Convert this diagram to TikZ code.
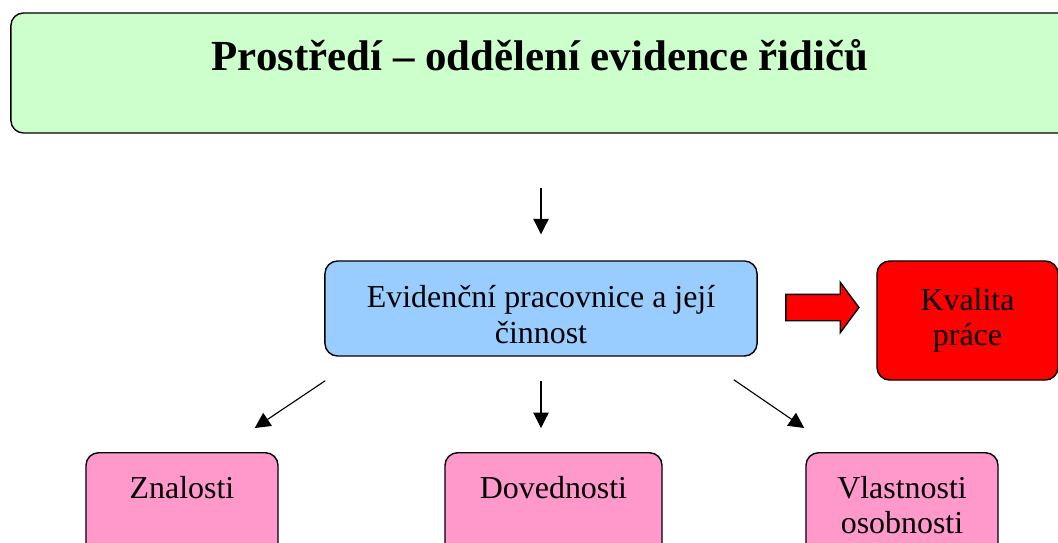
\documentclass[tikz,border=0pt]{standalone}
\usepackage{fontspec}
\setmainfont{Liberation Serif}
\usepackage{xcolor}
\usetikzlibrary{calc, arrows.meta, shapes.arrows}

\definecolor{envgreen}{HTML}{CCFFCC}
\definecolor{workblue}{HTML}{99CCFF}
\definecolor{skillpink}{HTML}{FF99CC}

\begin{document}
\begin{tikzpicture}[x=0.025cm, y=-0.025cm,
		box/.style={draw=black, line width=1pt, rounded corners=9pt, inner sep=0pt},
		pinkbox/.style={box, fill=skillpink, anchor=north, align=center, text height=1.15cm, text depth=2.5cm},
		arr/.style={-{Triangle[length=11pt, width=11pt]}, line width=0.8pt},
		every node/.style={font=\fontsize{22.7}{25}\selectfont}]
					\def\gap{24};
					
					\path[use as bounding box] (0,0) rectangle (1058,542);
					\clip (0,0) rectangle (1058,542);
					
					\begin{scope}
						\node [box, fill=envgreen, minimum width=26.6cm, minimum height=3cm] (env) at (543,73) {};
						\node [font=\fontsize{30.5}{36}\selectfont\bfseries] (title) at (540,55) {Prostředí – oddělení evidence řidičů};
						
						\node [box, fill=workblue, minimum width=10.8cm, minimum height=2.375cm, align=center, text height=1.95cm, text depth=0.225cm] (evid) at (541,308.5) {Evidenční pracovnice a její\\činnost};
						\node [box, fill=red, minimum width=4.525cm, minimum height=2.975cm, align=center] (qual) at (967.5,320.5) {Kvalita\\práce};
						\node [draw=black, line width=1pt, fill=red, single arrow, inner xsep=0pt, inner ysep=0.3125cm, minimum width=1.225cm, minimum height=1.825cm, single arrow head extend=0.3cm, single arrow tip angle=107] (qarrow) at (817.5,307.5) {};
						
						\node [pinkbox, minimum width=4.8cm] (zna) at (182,452) {Znalosti};
						\node [pinkbox, minimum width=5.425cm] (dov) at (553.5,452) {Dovednosti};
						\node [pinkbox, minimum width=4.8cm, text height=2.025cm] (vla) at (902,452) {Vlastnosti\\osobnosti};
					\end{scope}
					
					\begin{scope}
						\draw [arr, shorten <=1.35cm, shorten >=0.65cm] (evid.north |- env.south) -- (evid.north);
						\draw [arr] ([shift={(1,\gap)}]evid.south west) -- ([shift={(-\gap,-\gap)}]zna.north east);
						\draw [arr] ([yshift=-\gap*0.025cm]evid.south) -- ([yshift=\gap*0.025cm]evid.south |- dov.north);
						\draw [arr] ([shift={(-\gap,23)}]evid.south east) -- ([shift={(-1,-\gap)}]vla.north west);
					\end{scope}
				\end{tikzpicture}
\end{document}
